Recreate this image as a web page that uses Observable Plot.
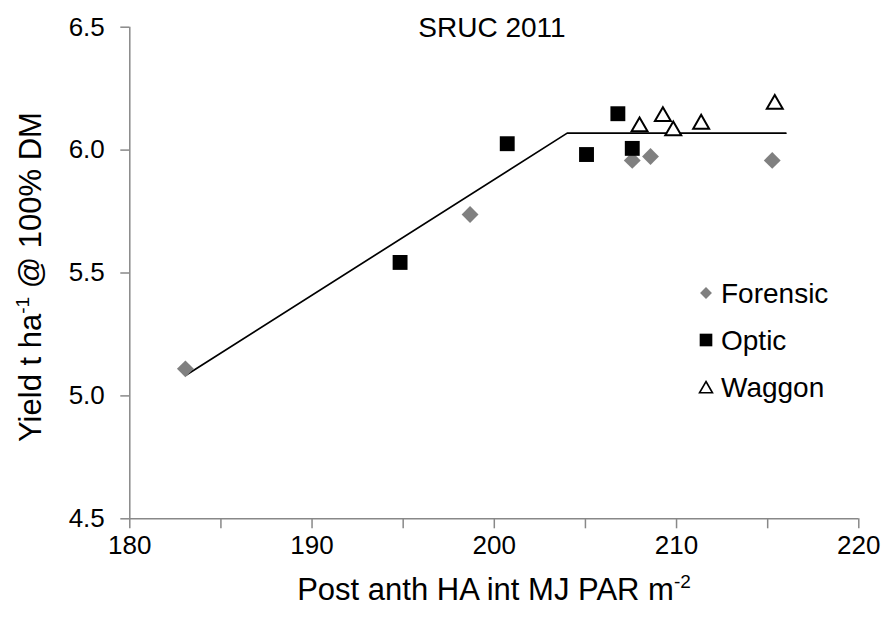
<!DOCTYPE html>
<html>
<head>
<meta charset="utf-8">
<script src="https://cdn.jsdelivr.net/npm/d3@7"></script>
<script src="https://cdn.jsdelivr.net/npm/@observablehq/plot@0.6"></script>
<style>
  html, body { margin: 0; padding: 0; background: white; }
  svg { display: block; }
</style>
</head>
<body>
<div id="chart"></div>
<script>
// Data
const forensicX = [183.05, 198.67, 207.57, 208.57, 215.25];
const forensicY = [5.11, 5.738, 5.958, 5.974, 5.958];
const opticX = [194.83, 200.71, 205.06, 206.78, 207.57];
const opticY = [5.543, 6.026, 5.982, 6.148, 6.007];
const waggonX = [207.97, 209.25, 209.82, 211.35, 215.39];
const waggonY = [6.095, 6.137, 6.079, 6.106, 6.187];
const fitX = [183.1, 204.0, 216.0];
const fitY = [5.085, 6.069, 6.069];
const xTicks = [180, 185, 190, 195, 200, 205, 210, 215, 220];
const xLabels = [180, 190, 200, 210, 220];
const yTicks = [4.5, 5.0, 5.5, 6.0, 6.5];
const seriesNames = ["Forensic", "Optic", "Waggon"];
const titleText = "SRUC 2011";

const toRows = (xs, ys) => xs.map((x, i) => ({x, y: ys[i]}));
const forensic = toRows(forensicX, forensicY);
const optic = toRows(opticX, opticY);
const waggon = toRows(waggonX, waggonY);
const fit = toRows(fitX, fitY);

const W = 887, H = 619;
const mL = 129.3, mR = 28.7, mT = 26.7, mB = 100.7;
const axisGray = "#888888";
const font = "'Liberation Sans', Arial, sans-serif";

const chart = Plot.plot({
  width: W, height: H,
  marginLeft: mL, marginRight: mR, marginTop: mT, marginBottom: mB,
  style: {fontFamily: font, background: "white", color: "black"},
  x: {domain: [180, 220], label: null},
  y: {domain: [4.5, 6.5], label: null},
  marks: [
    Plot.axisX({ticks: xTicks, tickSize: 10, tickFormat: () => "", label: null, stroke: axisGray, strokeWidth: 1.5}),
    Plot.axisX({ticks: xLabels, tickSize: 0, tickPadding: 17, fontSize: 26, label: null, fill: "black", tickFormat: d => String(d)}),
    Plot.axisY({ticks: yTicks, tickSize: 9, tickFormat: () => "", label: null, stroke: axisGray, strokeWidth: 1.5}),
    Plot.axisY({ticks: yTicks, tickSize: 0, tickPadding: 25, fontSize: 26, label: null, fill: "black", tickFormat: d3.format(".1f")}),
    Plot.ruleX([180], {stroke: axisGray, strokeWidth: 1.5}),
    Plot.ruleY([4.5], {stroke: axisGray, strokeWidth: 1.5}),
    Plot.line(fit, {x: "x", y: "y", stroke: "black", strokeWidth: 1.7}),
    Plot.dot(forensic, {x: "x", y: "y", symbol: "diamond2", r: 7.6, fill: "#808080", stroke: "none"}),
    Plot.dot(optic, {x: "x", y: "y", symbol: "square", r: 8.4, fill: "black", stroke: "none"}),
    Plot.dot(waggon, {x: "x", y: "y", symbol: "triangle2", r: 7.6, fill: "white", stroke: "black", strokeWidth: 2})
  ]
});

document.getElementById("chart").appendChild(chart);

const svg = d3.select(chart);

// Title
svg.append("text")
  .attr("x", 492).attr("y", 37)
  .attr("text-anchor", "middle")
  .attr("font-family", font).attr("font-size", 28)
  .attr("fill", "black")
  .text(titleText);

// X axis title
const xt = svg.append("text")
  .attr("x", 494).attr("y", 600)
  .attr("text-anchor", "middle")
  .attr("font-family", font).attr("font-size", 31)
  .attr("fill", "black");
xt.append("tspan").text("Post anth HA int MJ PAR m");
xt.append("tspan").attr("dy", -12).attr("font-size", 19).text("-2");

// Y axis title
const yt = svg.append("text")
  .attr("transform", "translate(41,277) rotate(-90)")
  .attr("text-anchor", "middle")
  .attr("font-family", font).attr("font-size", 31)
  .attr("fill", "black");
yt.append("tspan").text("Yield t ha");
yt.append("tspan").attr("dy", -12).attr("font-size", 19).text("-1");
yt.append("tspan").attr("dy", 12).text(" @ 100% DM");

// Legend
const legend = svg.append("g").attr("font-family", font).attr("font-size", 28).attr("text-anchor", "start");
const symbols = [
  {name: seriesNames[0], sym: d3.symbolDiamond2, size: 90, fill: "#808080", stroke: "none", sw: 0},
  {name: seriesNames[1], sym: d3.symbolSquare, size: 160, fill: "black", stroke: "none", sw: 0},
  {name: seriesNames[2], sym: d3.symbolTriangle2, size: 120, fill: "white", stroke: "black", sw: 1.6}
];
symbols.forEach((s, i) => {
  const cy = 293 + i * 47;
  legend.append("path")
    .attr("d", d3.symbol(s.sym, s.size)())
    .attr("transform", `translate(706,${cy + (i === 2 ? 2 : 0)})`)
    .attr("fill", s.fill).attr("stroke", s.stroke).attr("stroke-width", s.sw);
  legend.append("text")
    .attr("x", 721).attr("y", cy + 10)
    .attr("fill", "black")
    .text(s.name);
});
</script>
</body>
</html>
